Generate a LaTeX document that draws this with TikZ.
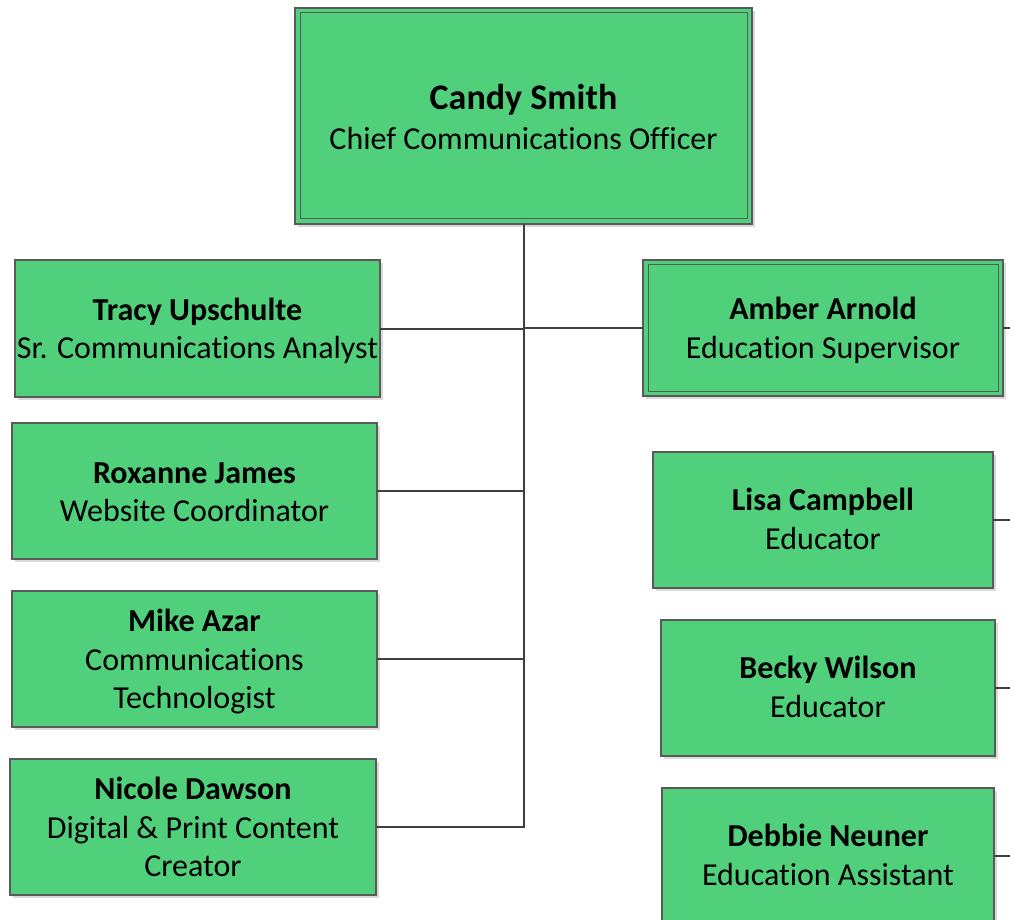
\documentclass[tikz,border=0pt]{standalone}
\usepackage{fontspec}
\setmainfont{Carlito}[Ligatures={TeX,NoCommon}]
\usetikzlibrary{shadows}
\definecolor{boxgreen}{HTML}{50D07A}
\definecolor{boxline}{HTML}{5A5A5A}
\definecolor{conline}{HTML}{404040}
\tikzset{
  orgbox/.style={rectangle, draw=boxline, line width=1.3pt, fill=boxgreen,
    inner sep=0pt, outer sep=0pt,
    drop shadow={shadow xshift=3pt, shadow yshift=-3pt, fill=black!15, opacity=1}},
  orgtext/.style={inner sep=0pt, align=center, text=black,
    font=\fontsize{32}{38.5}\selectfont},
  innerline/.style={draw=boxline, line width=1pt},
  conn/.style={draw=conline, line width=2pt},
}
\newcommand{\nm}[1]{{\bfseries #1}}
\begin{document}
\begin{tikzpicture}[x=1pt,y=-1pt]
\useasboundingbox (0,0) rectangle (1010,920);
\clip (0,0) rectangle (1010,920);
% boxes
\node[orgbox, minimum width=457pt, minimum height=216pt] (candy) at (523.5,116) {};
\draw[innerline] ([shift={(5,5)}]candy.north west) rectangle ([shift={(-5,-5)}]candy.south east);
\node[orgbox, minimum width=365pt, minimum height=137pt] (tracy) at (197.5,328.5) {};
\node[orgbox, minimum width=360pt, minimum height=136pt] (amber) at (823,328) {};
\draw[innerline] ([shift={(5,5)}]amber.north west) rectangle ([shift={(-5,-5)}]amber.south east);
\node[orgbox, minimum width=365pt, minimum height=136pt] (roxanne) at (194.5,491) {};
\node[orgbox, minimum width=365pt, minimum height=136pt] (mike) at (194.5,659) {};
\node[orgbox, minimum width=366pt, minimum height=136pt] (nicole) at (193,827) {};
\node[orgbox, minimum width=340pt, minimum height=136pt] (lisa) at (823,520) {};
\node[orgbox, minimum width=334pt, minimum height=136pt] (becky) at (828,688) {};
\node[orgbox, minimum width=332pt, minimum height=136pt] (debbie) at (828,856) {};
% texts
\node[orgtext] (candyt) at ([yshift=-1pt]candy.center)
  {{\fontsize{36}{40}\selectfont\bfseries Candy Smith}\\[1pt]Chief Communications Officer};
\node[orgtext] (tracyt) at ([yshift=-2.5pt]tracy.center) {\nm{Tracy Upschulte}\\Sr. Communications Analyst};
\node[orgtext] (ambert) at ([yshift=-2.5pt]amber.center) {\nm{Amber Arnold}\\Education Supervisor};
\node[orgtext] (roxannet) at ([yshift=-1pt]roxanne.center) {\nm{Roxanne James}\\Website Coordinator};
\node[orgtext] (miket) at ([yshift=-3pt]mike.center) {\nm{Mike Azar}\\Communications\\Technologist};
\node[orgtext] (nicolet) at (nicole.center) {\nm{Nicole Dawson}\\Digital \& Print Content\\Creator};
\node[orgtext] (lisat) at ([yshift=1pt]lisa.center) {\nm{Lisa Campbell}\\Educator};
\node[orgtext] (beckyt) at ([yshift=1pt]becky.center) {\nm{Becky Wilson}\\Educator};
\node[orgtext] (debbiet) at ([yshift=1pt]debbie.center) {\nm{Debbie Neuner}\\Education Assistant};
% free ends off the right edge
\coordinate (ra) at (1012,328);
\coordinate (rl) at (1012,520);
\coordinate (rb) at (1012,688);
\coordinate (rd) at (1012,856);
% connectors
\draw[conn] (candy.south) |- (nicole.east);
\draw[conn] (tracy.east) -- (tracy.east -| candy.south);
\draw[conn] (amber.west) -- (amber.west -| candy.south);
\draw[conn] (roxanne.east) -- (roxanne.east -| candy.south);
\draw[conn] (mike.east) -- (mike.east -| candy.south);
\draw[conn] (amber.east) -- (ra);
\draw[conn] (lisa.east) -- (rl);
\draw[conn] (becky.east) -- (rb);
\draw[conn] (debbie.east) -- (rd);
\end{tikzpicture}
\end{document}
